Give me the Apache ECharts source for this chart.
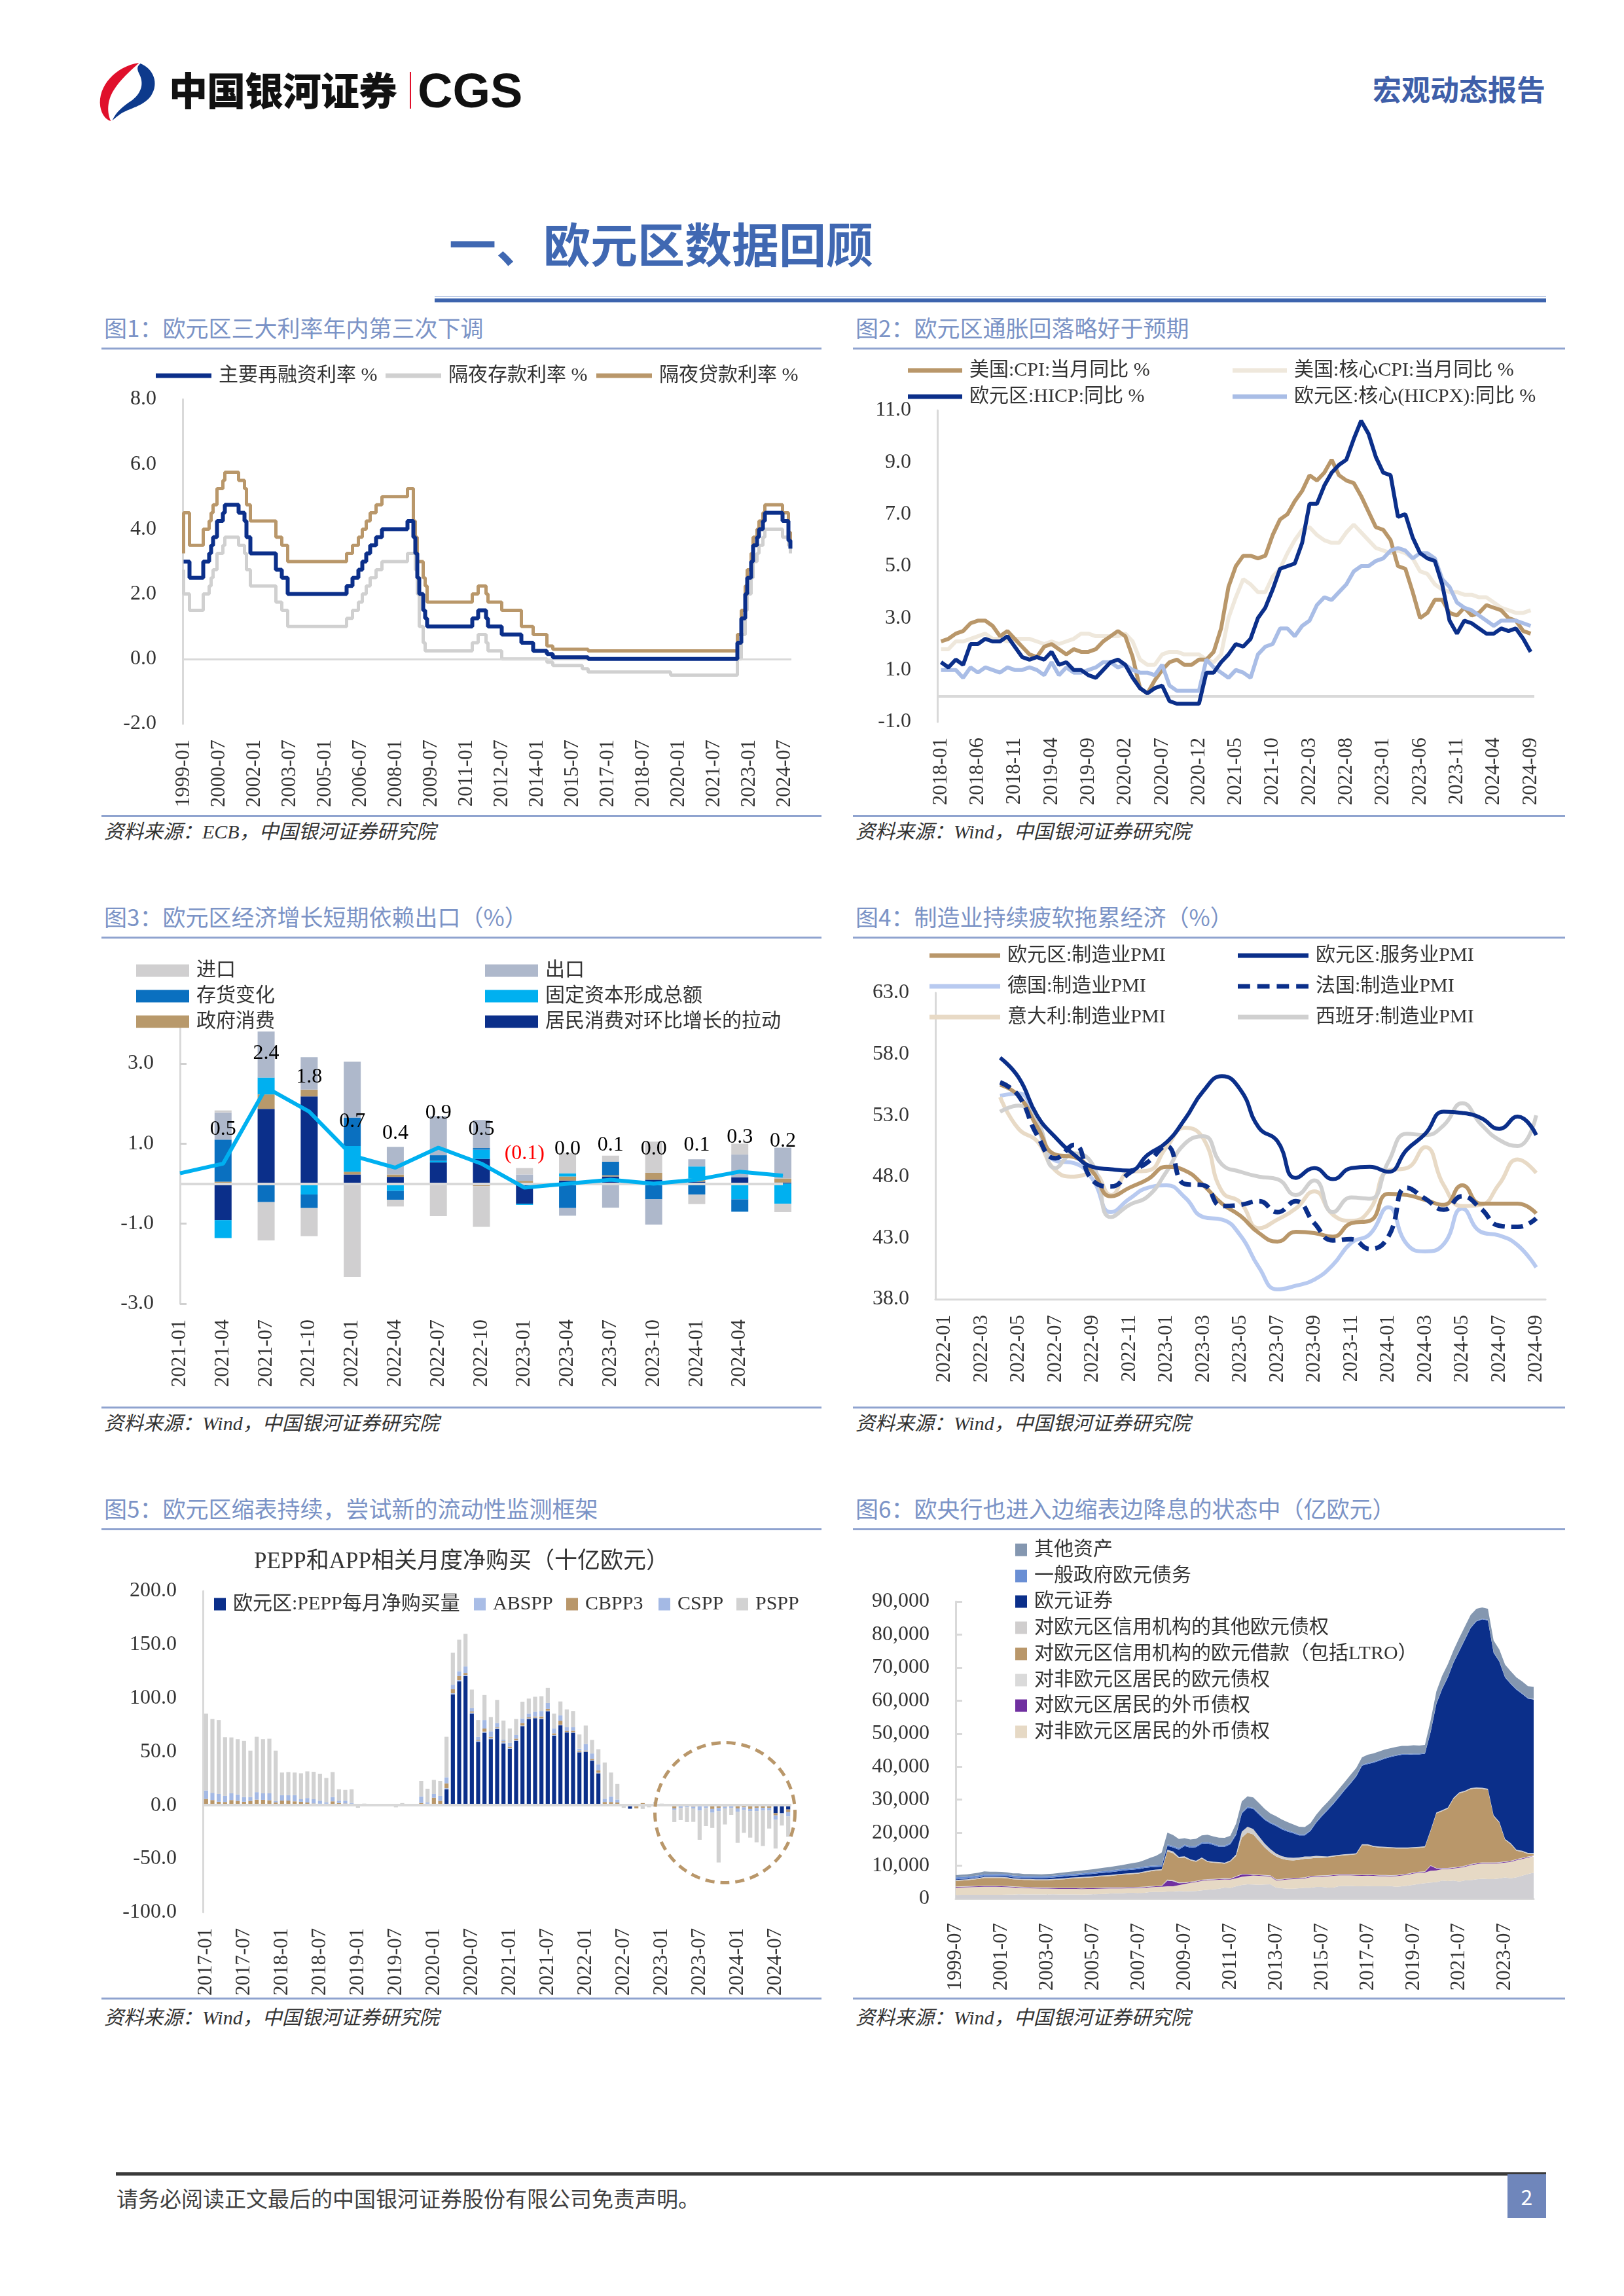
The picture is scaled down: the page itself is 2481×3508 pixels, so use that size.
<!DOCTYPE html>
<html><head><meta charset="utf-8">
<script src="https://cdn.jsdelivr.net/npm/echarts@6/dist/echarts.min.js"></script>
<style>
html,body{margin:0;padding:0;background:#fff}
#page{position:relative;width:2481px;height:3508px;overflow:hidden;background:#fff;font-family:'Noto Sans CJK SC',sans-serif}
.abs{position:absolute;white-space:nowrap}
.ctitle{position:absolute;font-size:35px;color:#7b93c6;line-height:40px;white-space:nowrap}
.rule{position:absolute;height:3px;background:#8fa3cf}
.src{position:absolute;font-size:30px;color:#333;font-style:italic;line-height:36px;white-space:nowrap;font-family:'Liberation Serif','Noto Sans CJK SC',serif}
.chart{position:absolute}
</style></head>
<body>
<div id="page">
  <svg class="abs" style="left:138px;top:93px" width="108" height="92" viewBox="0 0 100 90">
    <path d="M70,3 C35,8 8,38 12,68 C14,80 20,88 28,90 C22,78 22,60 32,44 C42,28 56,16 70,3 Z" fill="#e0102b"/>
    <path d="M72,4 C92,12 100,34 88,52 C78,66 60,70 48,76 C40,80 34,86 30,89 C36,76 46,68 58,60 C72,50 78,36 71,21 C67,13 66,9 72,4 Z" fill="#0d3a8c"/>
  </svg>
  <div class="abs" style="left:258px;top:106px;font-size:59px;line-height:59px;font-weight:900;color:#111;letter-spacing:-1px">中国银河证券</div>
  <div class="abs" style="left:626px;top:110px;width:2px;height:56px;background:#e0102b"></div>
  <div class="abs" style="left:638px;top:102px;font-size:74px;line-height:74px;font-weight:bold;color:#111;font-family:'Liberation Sans',Arial,sans-serif">CGS</div>
  <div class="abs" style="left:2097px;top:113px;font-size:44px;line-height:45px;font-weight:bold;color:#3f5fa9">宏观动态报告</div>

  <div class="abs" style="left:686px;top:334px;font-size:72px;line-height:72px;font-weight:bold;color:#4068b2">一、欧元区数据回顾</div>
  <div class="abs" style="left:664px;top:452px;width:1698px;height:2px;background:#bfcde8"></div>
  <div class="abs" style="left:664px;top:456px;width:1698px;height:6px;background:#3d64ae"></div>

  <div class="ctitle" style="left:159px;top:480px">图1：欧元区三大利率年内第三次下调</div>
  <div class="ctitle" style="left:1307px;top:480px">图2：欧元区通胀回落略好于预期</div>
  <div class="rule" style="left:155px;top:531px;width:1100px"></div>
  <div class="rule" style="left:1303px;top:531px;width:1088px"></div>
  <div class="rule" style="left:155px;top:1245px;width:1100px"></div>
  <div class="rule" style="left:1303px;top:1245px;width:1088px"></div>
  <div class="src" style="left:159px;top:1253px">资料来源：ECB，中国银河证券研究院</div>
  <div class="src" style="left:1307px;top:1253px">资料来源：Wind，中国银河证券研究院</div>

  <div class="ctitle" style="left:159px;top:1380px">图3：欧元区经济增长短期依赖出口（%）</div>
  <div class="ctitle" style="left:1307px;top:1380px">图4：制造业持续疲软拖累经济（%）</div>
  <div class="rule" style="left:155px;top:1431px;width:1100px"></div>
  <div class="rule" style="left:1303px;top:1431px;width:1088px"></div>
  <div class="rule" style="left:155px;top:2149px;width:1100px"></div>
  <div class="rule" style="left:1303px;top:2149px;width:1088px"></div>
  <div class="src" style="left:159px;top:2157px">资料来源：Wind，中国银河证券研究院</div>
  <div class="src" style="left:1307px;top:2157px">资料来源：Wind，中国银河证券研究院</div>

  <div class="ctitle" style="left:159px;top:2284px">图5：欧元区缩表持续，尝试新的流动性监测框架</div>
  <div class="ctitle" style="left:1307px;top:2284px">图6：欧央行也进入边缩表边降息的状态中（亿欧元）</div>
  <div class="rule" style="left:155px;top:2335px;width:1100px"></div>
  <div class="rule" style="left:1303px;top:2335px;width:1088px"></div>
  <div class="rule" style="left:155px;top:3052px;width:1100px"></div>
  <div class="rule" style="left:1303px;top:3052px;width:1088px"></div>
  <div class="src" style="left:159px;top:3065px">资料来源：Wind，中国银河证券研究院</div>
  <div class="src" style="left:1307px;top:3065px">资料来源：Wind，中国银河证券研究院</div>

  <div class="chart" id="c1" style="left:155px;top:535px;width:1100px;height:710px"></div>
  <div class="chart" id="c2" style="left:1303px;top:535px;width:1088px;height:710px"></div>
  <div class="chart" id="c3" style="left:155px;top:1434px;width:1100px;height:715px"></div>
  <div class="chart" id="c4" style="left:1303px;top:1434px;width:1088px;height:715px"></div>
  <div class="chart" id="c5" style="left:155px;top:2338px;width:1100px;height:714px"></div>
  <div class="chart" id="c6" style="left:1303px;top:2338px;width:1088px;height:714px"></div>

  <div class="abs" style="left:177px;top:3319px;width:2185px;height:5px;background:#3a3a3a"></div>
  <div class="abs" style="left:178px;top:3340px;font-size:33px;line-height:36px;color:#404040">请务必阅读正文最后的中国银河证券股份有限公司免责声明。</div>
  <div class="abs" style="left:2303px;top:3322px;width:59px;height:67px;background:#6f86bb;color:#fff;font-size:32px;line-height:67px;text-align:center">2</div>
</div>
<script>
// ---------------- DATA ----------------
function monthSeq(y0, m0, y1, m1, step) {
  const out = [];
  let y = y0, m = m0;
  while (y * 12 + m <= y1 * 12 + m1) {
    out.push(y + '-' + (m < 10 ? '0' + m : '' + m));
    m += step;
    while (m > 12) { m -= 12; y += 1; }
  }
  return out;
}
// Chart 1: ECB policy rates (change points, month → rate after change)
const cats1 = monthSeq(1999, 1, 2024, 10, 1);
const mroSteps = [['1999-01',3.00],['1999-04',2.50],['1999-11',3.00],['2000-02',3.25],['2000-03',3.50],['2000-04',3.75],['2000-06',4.25],['2000-09',4.50],['2000-10',4.75],['2001-05',4.50],['2001-08',4.25],['2001-09',3.75],['2001-11',3.25],['2002-12',2.75],['2003-03',2.50],['2003-06',2.00],['2005-12',2.25],['2006-03',2.50],['2006-06',2.75],['2006-08',3.00],['2006-10',3.25],['2006-12',3.50],['2007-03',3.75],['2007-06',4.00],['2008-07',4.25],['2008-10',3.75],['2008-11',3.25],['2008-12',2.50],['2009-01',2.00],['2009-03',1.50],['2009-04',1.25],['2009-05',1.00],['2011-04',1.25],['2011-07',1.50],['2011-11',1.25],['2011-12',1.00],['2012-07',0.75],['2013-05',0.50],['2013-11',0.25],['2014-06',0.15],['2014-09',0.05],['2016-03',0.00],['2022-07',0.50],['2022-09',1.25],['2022-11',2.00],['2022-12',2.50],['2023-02',3.00],['2023-03',3.50],['2023-05',3.75],['2023-06',4.00],['2023-08',4.25],['2023-09',4.50],['2024-06',4.25],['2024-09',3.65],['2024-10',3.40]];
const dfSteps = [['1999-01',2.75],['1999-01',2.00],['1999-04',1.50],['1999-11',2.00],['2000-02',2.25],['2000-03',2.50],['2000-04',2.75],['2000-06',3.25],['2000-09',3.50],['2000-10',3.75],['2001-05',3.50],['2001-08',3.25],['2001-09',2.75],['2001-11',2.25],['2002-12',1.75],['2003-03',1.50],['2003-06',1.00],['2005-12',1.25],['2006-03',1.50],['2006-06',1.75],['2006-08',2.00],['2006-10',2.25],['2006-12',2.50],['2007-03',2.75],['2007-06',3.00],['2008-07',3.25],['2008-11',2.75],['2008-12',2.00],['2009-01',1.00],['2009-03',0.50],['2009-04',0.25],['2011-04',0.50],['2011-07',0.75],['2011-11',0.50],['2011-12',0.25],['2012-07',0.00],['2014-06',-0.10],['2014-09',-0.20],['2015-12',-0.30],['2016-03',-0.40],['2019-09',-0.50],['2022-07',0.00],['2022-09',0.75],['2022-11',1.50],['2022-12',2.00],['2023-02',2.50],['2023-03',3.00],['2023-05',3.25],['2023-06',3.50],['2023-08',3.75],['2023-09',4.00],['2024-06',3.75],['2024-09',3.50],['2024-10',3.25]];
const mlfSteps = [['1999-01',3.25],['1999-01',4.50],['1999-04',3.50],['1999-11',4.00],['2000-02',4.25],['2000-03',4.50],['2000-04',4.75],['2000-06',5.25],['2000-09',5.50],['2000-10',5.75],['2001-05',5.50],['2001-08',5.25],['2001-09',4.75],['2001-11',4.25],['2002-12',3.75],['2003-03',3.50],['2003-06',3.00],['2005-12',3.25],['2006-03',3.50],['2006-06',3.75],['2006-08',4.00],['2006-10',4.25],['2006-12',4.50],['2007-03',4.75],['2007-06',5.00],['2008-07',5.25],['2008-10',4.25],['2008-11',3.75],['2008-12',3.00],['2009-03',2.50],['2009-04',2.25],['2009-05',1.75],['2011-04',2.00],['2011-07',2.25],['2011-11',2.00],['2011-12',1.75],['2012-07',1.50],['2013-05',1.00],['2013-11',0.75],['2014-06',0.40],['2014-09',0.30],['2016-03',0.25],['2022-07',0.75],['2022-09',1.50],['2022-11',2.25],['2022-12',2.75],['2023-02',3.25],['2023-03',3.75],['2023-05',4.00],['2023-06',4.25],['2023-08',4.50],['2023-09',4.75],['2024-06',4.50],['2024-09',3.90],['2024-10',3.65]];

// Chart 2: inflation (2018-01 .. 2024-09)
const cats2 = monthSeq(2018, 1, 2024, 9, 1);
const usCPI = [2.1,2.2,2.4,2.5,2.8,2.9,2.9,2.7,2.3,2.5,2.2,1.9, 1.6,1.5,1.9,2.0,1.8,1.6,1.8,1.7,1.7,1.8,2.1,2.3, 2.5,2.3,1.5,0.3,0.1,0.6,1.0,1.3,1.4,1.2,1.2,1.4, 1.4,1.7,2.6,4.2,5.0,5.4,5.4,5.3,5.4,6.2,6.8,7.0, 7.5,7.9,8.5,8.3,8.6,9.1,8.5,8.3,8.2,7.7,7.1,6.5, 6.4,6.0,5.0,4.9,4.0,3.0,3.2,3.7,3.7,3.2,3.1,3.4, 3.1,3.2,3.5,3.4,3.3,3.0,2.9,2.5,2.4];
const usCore = [1.8,1.8,2.1,2.1,2.2,2.3,2.4,2.2,2.2,2.1,2.2,2.2, 2.2,2.1,2.0,2.1,2.0,2.1,2.2,2.4,2.4,2.3,2.3,2.3, 2.3,2.4,2.1,1.4,1.2,1.2,1.6,1.7,1.7,1.6,1.6,1.6, 1.4,1.3,1.6,3.0,3.8,4.5,4.3,4.0,4.0,4.6,4.9,5.5, 6.0,6.4,6.5,6.2,6.0,5.9,5.9,6.3,6.6,6.3,6.0,5.7, 5.6,5.5,5.6,5.5,5.3,4.8,4.7,4.3,4.1,4.0,4.0,3.9, 3.9,3.8,3.8,3.6,3.4,3.3,3.2,3.2,3.3];
const euHICP = [1.3,1.1,1.4,1.2,2.0,2.0,2.2,2.1,2.1,2.3,1.9,1.5, 1.4,1.5,1.4,1.7,1.2,1.3,1.0,1.0,0.8,0.7,1.0,1.3, 1.4,1.2,0.7,0.3,0.1,0.3,0.4,-0.2,-0.3,-0.3,-0.3,-0.3, 0.9,0.9,1.3,1.6,2.0,1.9,2.2,3.0,3.4,4.1,4.9,5.0, 5.1,5.9,7.4,7.4,8.1,8.6,8.9,9.1,9.9,10.6,10.1,9.2, 8.6,8.5,6.9,7.0,6.1,5.5,5.3,5.2,4.3,2.9,2.4,2.9, 2.8,2.6,2.4,2.4,2.6,2.5,2.6,2.2,1.7];
const euCore = [1.0,1.0,1.0,0.7,1.1,0.9,1.1,1.0,0.9,1.1,1.0,1.0, 1.1,1.0,0.8,1.3,0.8,1.1,0.9,0.9,1.0,1.1,1.3,1.3, 1.1,1.2,1.0,0.9,0.9,0.8,1.2,0.4,0.2,0.2,0.2,0.2, 1.4,1.1,0.9,0.7,1.0,0.9,0.7,1.6,1.9,2.0,2.6,2.6, 2.3,2.7,2.9,3.5,3.8,3.7,4.0,4.3,4.8,5.0,5.0,5.2, 5.3,5.6,5.7,5.6,5.3,5.5,5.5,5.3,4.5,4.2,3.6,3.4, 3.3,3.1,2.9,2.7,2.9,2.9,2.9,2.8,2.7];

// Chart 3: GDP QoQ contributions (first slot carries only the line start)
const cats3 = monthSeq(2021, 1, 2024, 7, 3);
const hhCons   = [null,-0.91,1.87,2.18,0.23,0.17,0.53,0.62,-0.50,0.08,0.18,0.10,0.05,0.16,0.03];
const govCons  = [null,0.05,0.36,0.17,0.07,0.06,0.00,-0.06,0.07,0.10,0.03,0.17,0.08,0.00,0.10];
const gfcf     = [null,-0.45,0.42,-0.27,0.64,-0.18,0.04,0.23,-0.03,0.08,0.00,0.00,0.30,-0.39,-0.50];
const invChg   = [null,1.05,-0.46,-0.34,0.71,-0.22,0.14,0.04,0.00,-0.61,0.34,-0.39,-0.27,-0.31,0.00];
const exportsC = [null,0.68,1.15,0.81,1.40,0.69,0.98,0.70,0.16,-0.19,-0.60,-0.63,0.18,0.57,0.77];
const importsC = [null,0.05,-0.96,-0.70,-2.33,-0.17,-0.81,-1.02,0.16,0.51,0.15,0.78,-0.24,0.27,-0.21];
const gdpQoQ   = [0.26,0.5,2.4,1.8,0.7,0.4,0.9,0.5,-0.1,0.0,0.1,0.0,0.1,0.3,0.2];

// Chart 4: PMIs (2022-01 .. 2024-09)
const cats4 = monthSeq(2022, 1, 2024, 9, 1);
const ezMfg = [null,null,null,55.5,54.6,52.1,49.8,49.6,48.4,46.4,47.1,47.8,48.8,48.5,47.3,45.8,44.8,43.4,42.7,43.5,43.4,43.1,44.2,44.4,46.6,46.5,46.1,45.7,47.3,45.8,45.8,45.8,45.0];
const ezSvc = [null,null,null,57.7,56.1,53.0,51.2,49.8,48.8,48.6,48.5,49.8,50.8,52.7,55.0,56.2,55.1,52.0,50.9,47.9,48.7,47.8,48.7,48.8,48.4,50.2,51.5,53.3,53.2,52.8,51.9,52.9,51.4];
const deMfg = [null,null,null,54.6,54.8,52.0,49.3,49.1,47.8,45.1,46.2,47.1,47.3,46.3,44.7,44.5,43.2,40.6,38.8,39.1,39.6,40.8,42.6,43.3,45.5,42.5,41.9,42.5,45.4,43.5,43.2,42.4,40.6];
const frMfg = [null,null,null,55.7,54.6,51.4,49.5,50.6,47.7,47.2,48.3,49.2,50.5,47.4,47.3,45.6,45.7,46.0,45.1,46.0,44.2,42.8,42.9,42.1,43.1,47.1,46.2,45.3,46.4,45.4,44.0,43.9,44.6];
const itMfg = [null,null,null,54.5,51.9,50.9,48.5,48.0,48.3,46.5,48.4,48.5,50.4,52.0,51.1,46.8,45.9,43.8,44.5,45.4,46.8,44.9,44.4,45.3,48.5,48.7,50.4,47.3,45.6,45.7,47.4,49.4,48.3];
const esMfg = [null,null,null,53.3,53.8,52.6,48.7,49.9,49.0,44.7,45.7,46.4,48.4,50.7,51.3,49.0,48.4,48.0,47.8,46.5,47.7,45.1,46.3,46.2,49.2,51.5,51.4,52.2,54.0,52.3,51.0,50.5,53.0];

// Chart 5: monthly net purchases, bn EUR (2017-01 .. 2024-09)
const cats5 = monthSeq(2017, 1, 2024, 9, 1);
const pepp = [0,0,0,0,0,0,0,0,0,0,0,0, 0,0,0,0,0,0,0,0,0,0,0,0, 0,0,0,0,0,0,0,0,0,0,0,0, 0,0,14.9,103.6,115.8,120.7,85.5,59.2,67.7,61.7,71.0,57.7, 52.8,60.1,73.9,80.6,81.3,80.6,87.8,65.0,74.6,67.9,67.7,49.4, 49.9,41.6,29.8,0,0,0,0,-3.3,-1.0,0,0,0, 0,0,0,0,0,0,0,0,0,0,0,1.0, 0,0,0,0,0,0,-7.5,-7.5,-4.0];
const abspp = [1,1,1,1,1,1,1,1,1,1,1,1, 0.5,0.5,0.5,0.5,0.5,0.5,0.5,0.5,0.5,0.5,0.5,0.5, 0,0,0,0,0,0,0,0,0,0,0.5,0.5, 1,1,1,1,1,1,1,1,1,1,1,1, 0.5,0.5,0.5,0.5,0.5,0.5,0.5,0.5,0.5,0.5,0.5,0.5, 0.5,0.5,0.5,0.3,0.3,0.3,0,0,0,0,0,0, 0,0,0,0,0,0,0,0,0,0,0,0, 0,0,0,0,0,0,0,0,0];
const cbpp3 = [4.9,3.8,2.2,2.0,3.8,3.1,2.2,3.1,4.2,4.0,3.6,1.6, 3.8,3.8,3.1,2.7,2.0,1.1,0.9,0.9,3.1,1.6,1.1,0.9, 0,0.3,0,0,0.3,0,0,0.5,0,0,1.6,0.9, 6.0,3.1,4.5,3.7,3.8,1.8,1.1,0.9,2.9,1.1,0.7,1.1, 1.5,1.6,2.3,1.1,1.1,1.8,1.7,1.6,3.8,1.1,1.3,1.2, 0.7,1.2,2.3,2.7,2.7,2.2,0,0,-2.0,2.0,0,0, 0,0,-3.0,-1.0,-1.0,-1.5,-1.0,-0.5,-3.5,-2.5,-1.5,-1.0, -3.0,-2.0,-3.5,-2.5,-2.5,-2.5,-2.0,0,-2.5];
const cspp = [7.9,6.8,7.3,5.7,6.3,5.9,4.4,3.5,7.0,6.1,6.5,1.2, 5.1,5.1,5.8,2.4,4.2,4.0,2.8,1.3,4.0,2.1,2.6,0.8, 0,0,0,0,0,0,0,0,0,0,6.1,1.3, 3.5,4.6,5.7,4.2,4.6,6.1,3.0,2.8,7.9,5.2,4.1,1.4, 3.6,3.3,4.4,3.3,4.4,5.1,5.5,4.6,5.1,3.3,3.3,1.7, 6.1,5.0,5.7,3.0,5.2,2.8,0,0,0,0,1.0,1.0, 0.5,0,-1.5,-1.5,-1.0,-1.5,-4.0,-2.0,-3.5,-3.0,-1.5,-1.5, -3.0,-2.5,-2.0,-3.0,-2.5,-2.5,-4.0,-0.5,-4.0];
const pspp = [71.7,69.0,69.0,54.8,52.2,51.7,52.5,43.4,51.7,50.6,51.0,47.2, 21.1,21.6,21.1,24.2,24.9,25.6,25.2,22.7,23.4,10.7,10.1,12.7, -2.4,1.2,0.5,-1.0,0.7,1.0,-2.0,1.5,1.0,0.5,14.5,12.7, 13.1,14.0,37.8,30.0,29.4,30.5,17.4,15.6,23.4,13.4,21.6,17.9, 13.3,15.1,15.6,14.1,14.0,13.8,14.1,13.8,12.9,16.7,15.2,13.3, 17.2,12.7,14.0,33.9,22.3,14.5,-2.5,0,0,-3.5,-2.0,2.2, 1.0,-0.5,-11.3,-11.5,-13.8,-12.6,-27.3,-17.0,-14.2,-48.0,-15.0,-6.6, -29.2,-21.3,-24.8,-29.2,-33.1,-16.8,-27.0,-11.0,-19.0];

// Chart 6: Eurosystem assets, 100m EUR, quarterly (1999-07 .. 2024-10)
const cats6 = monthSeq(1999, 7, 2024, 10, 3);
const gold = [1160,1170,1170,1180,1190,1180,1180,1200,1210,1260, 1260,1330,1300,1300,1300,1280,1300,1330,1300,1300, 1280,1310,1250,1310,1320,1400,1460,1600,1660,1640, 1760,1780,1730,1770,2010,2090,2010,2160,2180,2320, 2240,2300,2320,2520,2710,2820,3000,3370,3290,3780, 4160,4370,4330,4220,4330,4380,3360,3160,3030,3030, 3160,3340,3340,3580,3580,3370,3380,3800,3830,3850, 3760,3790,3820,3760,3760,3790,3800,3620,3760,3950, 4230,4530,4700,4900,5000,5510,5360,5490,5190,5560, 5590,5890,6040,5930,5930,6170,6450,6200,6490,6990, 7500,7860];
const fxNonEuro = [2190,2230,2280,2320,2360,2420,2420,2400,2340,2240, 2140,1970,1900,1850,1800,1770,1750,1670,1650,1650, 1670,1640,1650,1640,1630,1600,1590,1500,1440,1460, 1390,1370,1470,1530,1440,1460,1590,1600,1600,1800, 2200,2500,2750,2900,2900,2830,2750,2500,2510,2400, 2490,2480,2720,2730,2520,2370,2190,2490,2820,2920, 2840,2810,3210,3070,3170,3430,3570,3300,3270,3250, 3240,3160,3170,3190,3090,3060,3000,3230,3290,3300, 3420,3320,3250,3550,3550,3440,3590,3660,4160,4090, 4560,4560,4610,4720,4720,4580,4500,4950,5160,5060, 4950,4890];
const fxEuroArea = [200,200,200,200,200,200,200,200,200,200, 200,200,200,200,200,200,200,200,200,200, 200,200,200,200,200,200,200,200,200,200, 200,200,200,200,200,200,200,1740,1520,600, 300,200,200,200,200,200,200,200,200,500, 700,500,200,200,200,200,200,200,200,200, 200,200,200,200,200,200,200,200,200,200, 200,200,200,200,200,200,200,200,200,200, 200,200,200,1500,600,200,200,200,200,200, 200,200,200,200,200,200,200,200,200,200, 200,200];
const euroNonEuro = [150,150,150,150,150,150,150,150,150,150, 150,150,150,150,150,150,150,150,150,150, 150,150,150,150,150,150,150,150,150,150, 150,150,150,150,150,150,150,300,300,250, 200,150,150,150,150,150,150,150,150,150, 150,150,150,150,150,150,150,150,150,150, 150,150,150,150,150,150,150,150,150,150, 150,150,150,150,150,150,150,150,150,150, 150,150,150,150,150,150,150,150,150,150, 150,150,150,150,150,150,150,150,150,150, 150,150];
const lendingCI = [1700,1750,1800,1950,2100,2350,2350,2350,2400,2350, 2150,2150,2150,2200,2150,2200,2200,2350,2500,2600, 2800,2900,3050,3100,3200,3350,3400,3450,3650,3800, 3900,4000,4100,4350,4500,4600,4700,8500,8200,7300, 7500,6500,5800,6400,5200,4900,4700,4400,5150,6100, 11000,12500,12100,10200,8300,6900,6900,6100,5500,5300, 5450,5600,5300,5400,5300,5350,5500,5550,5750,5850, 6150,8900,8860,8400,8300,8200,8150,8000,7800,7600, 7300,7200,7300,10400,16500,17200,18000,20800,22200,22400, 22700,22600,22300,22000,14000,11900,6500,5000,2500,1800, 800,400];
const otherClaimsCI = [300,300,300,300,300,300,300,300,300,300, 300,300,300,300,300,300,300,300,300,300, 300,300,300,300,300,300,300,300,300,300, 300,300,300,300,300,300,300,500,500,400, 400,300,300,300,300,300,300,300,300,500, 1800,1800,1600,1400,1200,1000,900,800,800,800, 700,700,600,600,500,300,300,300,300,300, 300,300,300,300,300,300,300,300,300,300, 300,300,300,300,300,300,300,300,300,300, 300,300,300,300,300,300,300,300,300,300, 300,300];
const securities = [200,200,200,200,200,200,200,250,300,300, 300,300,300,300,350,350,400,450,500,550, 550,550,600,700,750,750,800,850,850,900, 950,1000,1000,1000,900,800,750,1200,1200,2200, 3100,3500,4100,4200,5300,5100,4600,4800,4900,5900, 5500,5700,6100,6600,7200,7800,8300,8100,7800,7400, 6700,6400,7700,10000,12100,14000,15600,17500,19400,21300, 23200,23800,24300,25200,26000,26700,27300,27800,28100,28100, 28100,28000,28000,29700,32900,36700,39400,40900,42800,45800, 48500,50300,51000,51000,49200,48500,48900,48200,48500,47500, 46700,46500];
const govDebt = [600,600,600,600,600,600,600,600,600,600, 550,550,550,550,550,550,550,550,550,550, 500,500,500,500,500,500,500,500,500,500, 450,450,450,450,450,450,450,450,450,450, 400,400,400,400,400,400,400,400,400,400, 350,350,350,350,350,350,350,350,350,350, 300,300,300,300,300,300,300,300,300,300, 280,280,280,280,280,280,280,280,280,280, 250,250,250,250,250,250,250,250,250,250, 220,220,220,220,220,220,220,220,220,220, 220,220];
const otherAssets = [650,700,700,750,800,900,800,750,650,600, 650,750,650,650,650,600,650,600,650,700, 750,800,800,800,850,900,1000,1050,1150,1200, 1400,1550,1700,1950,2450,2950,3850,3550,3350,2750, 2000,2100,2100,2100,2200,2200,2400,2300,2200,3000, 3350,3150,3150,3150,2950,2650,2650,2650,2550,2350, 2300,2200,2100,2100,2200,2200,2200,2200,2200,2300, 2320,2220,2520,2520,2520,2520,2420,2420,2420,2420, 2550,2450,2450,3250,3550,3750,3750,3550,3750,3750, 3780,3580,3380,3280,3480,3480,3680,3680,3480,3580, 3580,3680];

// ---------------- STYLE HELPERS ----------------
const SERIF = "'Liberation Serif','Noto Sans CJK SC',serif";
const NAVY = '#0b2f8a', TAN = '#b9976a';
const TXT = {fontSize: 30, color: '#333', fontFamily: SERIF, padding: [0, 0, 0, 6]};
const DASH_ICON = 'path://M0,0H19V7H0Z M30,0H49V7H30Z M60,0H79V7H60Z M90,0H109V7H90Z';
function lineLeg(name, left, top, w, icon) {
  return {data: [name], left: left, top: top, icon: icon || 'rect', itemWidth: w, itemHeight: 7, itemGap: 0, padding: 0,
          selectedMode: false, symbolKeepAspect: false, textStyle: TXT};
}
function boxLeg(name, left, top, w, h) {
  return {data: [name], left: left, top: top, icon: 'rect', itemWidth: w, itemHeight: h, itemGap: 0,
          padding: 0, selectedMode: false, textStyle: TXT};
}
function xLab(interval, margin) {
  return {rotate: 90, interval: interval, fontSize: 31, color: '#333', margin: margin || 24, fontFamily: SERIF};
}
function yAx(min, max, interval, fmt, extra) {
  return Object.assign({type: 'value', min: min, max: max, interval: interval,
    axisLine: {show: true, lineStyle: {color: '#d9d9d9', width: 3}},
    axisTick: {show: false}, splitLine: {show: false},
    axisLabel: {fontSize: 32, color: '#333', margin: 40, formatter: fmt, fontFamily: SERIF}}, extra || {});
}
function zeroLine(w) {
  return {silent: true, symbol: ['none', 'none'], label: {show: false}, animation: false,
          lineStyle: {color: '#d9d9d9', width: w || 4, type: 'solid'}, emphasis: {disabled: true}, data: [{yAxis: 0}]};
}
const f1 = v => v.toFixed(1);
function mk(id, opt) {
  const c = echarts.init(document.getElementById(id), null, {renderer: 'canvas'});
  opt.animation = false;
  opt.textStyle = {fontFamily: SERIF};
  c.setOption(opt);
  return c;
}

// ---------------- CHART 1 ----------------
mk('c1', {
  grid: {left: 124, top: 75, width: 930, height: 496},
  legend: [lineLeg('主要再融资利率 %', 83, 24, 85), lineLeg('隔夜存款利率 %', 434, 24, 85), lineLeg('隔夜贷款利率 %', 756, 24, 85)],
  xAxis: {type: 'category', data: cats1, boundaryGap: true, axisLine: {show: false}, axisTick: {show: false}, axisLabel: xLab(17)},
  yAxis: yAx(-2, 8, 2, f1),
  series: [
    {name: '主要再融资利率 %', type: 'line', step: 'end', data: mroSteps, symbol: 'none', z: 5, lineStyle: {width: 6, color: NAVY}, itemStyle: {color: NAVY}},
    {name: '隔夜存款利率 %', type: 'line', step: 'end', data: dfSteps, symbol: 'none', z: 3, lineStyle: {width: 5, color: '#d0d0d0'}, itemStyle: {color: '#d0d0d0'}, markLine: zeroLine(3)},
    {name: '隔夜贷款利率 %', type: 'line', step: 'end', data: mlfSteps, symbol: 'none', z: 4, lineStyle: {width: 5, color: TAN}, itemStyle: {color: TAN}}
  ]
});

// ---------------- CHART 2 ----------------
mk('c2', {
  grid: {left: 129, top: 92, width: 912, height: 476},
  legend: [lineLeg('美国:CPI:当月同比 %', 84, 16, 83), lineLeg('美国:核心CPI:当月同比 %', 580, 16, 83),
           lineLeg('欧元区:HICP:同比 %', 84, 56, 83), lineLeg('欧元区:核心(HICPX):同比 %', 580, 56, 83)],
  xAxis: {type: 'category', data: cats2, boundaryGap: true, axisLine: {show: false}, axisTick: {show: false}, axisLabel: xLab(4)},
  yAxis: yAx(-1, 11, 2, f1),
  series: [
    {name: '美国:核心CPI:当月同比 %', type: 'line', data: usCore, symbol: 'none', z: 2, lineStyle: {width: 6, color: '#efe8dc'}, itemStyle: {color: '#efe8dc'}, markLine: zeroLine(4)},
    {name: '美国:CPI:当月同比 %', type: 'line', data: usCPI, symbol: 'none', z: 3, lineStyle: {width: 6, color: TAN}, itemStyle: {color: TAN}},
    {name: '欧元区:核心(HICPX):同比 %', type: 'line', data: euCore, symbol: 'none', z: 4, lineStyle: {width: 6, color: '#a9bde6'}, itemStyle: {color: '#a9bde6'}},
    {name: '欧元区:HICP:同比 %', type: 'line', data: euHICP, symbol: 'none', z: 5, lineStyle: {width: 6, color: NAVY}, itemStyle: {color: NAVY}}
  ]
});

// ---------------- CHART 3 ----------------
const c3cols = {'居民消费对环比增长的拉动': NAVY, '政府消费': '#b8996b', '固定资本形成总额': '#00b0f0', '存货变化': '#0a70c0', '出口': '#aeb8cb', '进口': '#d0cfd0'};
const c3data = [['居民消费对环比增长的拉动', hhCons], ['政府消费', govCons], ['固定资本形成总额', gfcf], ['存货变化', invChg], ['出口', exportsC], ['进口', importsC]];
const c3series = c3data.map(d => ({name: d[0], type: 'bar', stack: 'gdp', data: d[1], barWidth: 26, clip: false, itemStyle: {color: c3cols[d[0]]}}));
c3series.push({name: 'GDP环比', type: 'line', data: gdpQoQ.map((v, i) => i === 0 ? {value: v, label: {show: false}} : (v < 0 ? {value: v, label: {color: '#ff0000'}} : v)),
  symbol: 'circle', symbolSize: 1, showSymbol: true, z: 6, lineStyle: {width: 6, color: '#00b0f0'}, itemStyle: {color: '#00b0f0'},
  label: {show: true, position: 'top', distance: 36, fontSize: 32, color: '#000', fontFamily: SERIF,
          formatter: p => p.value < 0 ? '(' + Math.abs(p.value).toFixed(1) + ')' : p.value.toFixed(1)},
  markLine: zeroLine(4)});
mk('c3', {
  grid: {left: 120, top: 136, width: 921, height: 422},
  legend: [boxLeg('进口', 53, 34, 81, 19), boxLeg('出口', 586, 34, 81, 19),
           boxLeg('存货变化', 53, 73, 81, 19), boxLeg('固定资本形成总额', 586, 73, 81, 19),
           boxLeg('政府消费', 53, 112, 81, 19), boxLeg('居民消费对环比增长的拉动', 586, 112, 81, 19)],
  xAxis: {type: 'category', data: cats3, boundaryGap: false, axisLine: {show: false}, axisTick: {show: false}, axisLabel: xLab(i => i < 14)},
  yAxis: yAx(-3, 3.9, 2, f1, {axisTick: {show: true, inside: true, length: 10, lineStyle: {color: '#d0d0d0', width: 3}}, axisLabel: {fontSize: 32, color: '#333', margin: 40, formatter: f1, fontFamily: SERIF, showMaxLabel: false}}),
  series: c3series
});

// ---------------- CHART 4 ----------------
mk('c4', {
  grid: {left: 126, top: 83, width: 932, height: 468},
  legend: [lineLeg('欧元区:制造业PMI', 117, 11, 108), lineLeg('欧元区:服务业PMI', 588, 11, 108),
           lineLeg('德国:制造业PMI', 117, 58, 108), lineLeg('法国:制造业PMI', 588, 58, 108, DASH_ICON),
           lineLeg('意大利:制造业PMI', 117, 105, 108), lineLeg('西班牙:制造业PMI', 588, 105, 108)],
  xAxis: {type: 'category', data: cats4, boundaryGap: true, axisLine: {show: true, lineStyle: {color: '#d9d9d9', width: 3}}, axisTick: {show: false}, axisLabel: xLab(1)},
  yAxis: yAx(38, 63, 5, f1),
  series: [
    {name: '欧元区:制造业PMI', type: 'line', smooth: 0.5, data: ezMfg, symbol: 'none', z: 3, lineStyle: {width: 6, color: TAN}, itemStyle: {color: TAN}},
    {name: '欧元区:服务业PMI', type: 'line', smooth: 0.5, data: ezSvc, symbol: 'none', z: 5, lineStyle: {width: 6, color: NAVY}, itemStyle: {color: NAVY}},
    {name: '德国:制造业PMI', type: 'line', smooth: 0.5, data: deMfg, symbol: 'none', z: 2, lineStyle: {width: 6, color: '#b8caf0'}, itemStyle: {color: '#b8caf0'}},
    {name: '法国:制造业PMI', type: 'line', smooth: 0.5, data: frMfg, symbol: 'none', z: 4, lineStyle: {width: 7, color: NAVY, type: [18, 10]}, itemStyle: {color: NAVY}},
    {name: '意大利:制造业PMI', type: 'line', smooth: 0.5, data: itMfg, symbol: 'none', z: 2, lineStyle: {width: 6, color: '#e8dac6'}, itemStyle: {color: '#e8dac6'}},
    {name: '西班牙:制造业PMI', type: 'line', smooth: 0.5, data: esMfg, symbol: 'none', z: 2, lineStyle: {width: 6, color: '#d0d0d0'}, itemStyle: {color: '#d0d0d0'}}
  ]
});

// ---------------- CHART 5 ----------------
const c5 = mk('c5', {
  title: {text: 'PEPP和APP相关月度净购买（十亿欧元）', left: 'center', top: 26, textStyle: {fontSize: 35, fontWeight: 'normal', color: '#333', fontFamily: SERIF}},
  grid: {left: 155, top: 93, width: 899, height: 491},
  legend: [boxLeg('欧元区:PEPP每月净购买量', 172, 98, 18, 19), boxLeg('ABSPP', 569, 98, 18, 19), boxLeg('CBPP3', 710, 98, 18, 19),
           boxLeg('CSPP', 851, 98, 18, 19), boxLeg('PSPP', 970, 98, 18, 19)],
  xAxis: {type: 'category', data: cats5, boundaryGap: true, axisLine: {show: false}, axisTick: {show: false}, axisLabel: xLab(5)},
  yAxis: yAx(-100, 200, 50, f1),
  series: [
    {name: '欧元区:PEPP每月净购买量', type: 'bar', stack: 'app', data: pepp, barCategoryGap: '36%', itemStyle: {color: NAVY}},
    {name: 'ABSPP', type: 'bar', stack: 'app', data: abspp, itemStyle: {color: '#a9bde6'}},
    {name: 'CBPP3', type: 'bar', stack: 'app', data: cbpp3, itemStyle: {color: TAN}},
    {name: 'CSPP', type: 'bar', stack: 'app', data: cspp, itemStyle: {color: '#a4b9e4'}},
    {name: 'PSPP', type: 'bar', stack: 'app', data: pspp, itemStyle: {color: '#d2d2d2'}, markLine: zeroLine(4)}
  ]
});
const ctr = c5.convertToPixel({xAxisIndex: 0, yAxisIndex: 0}, ['2023-11', -7]);
c5.setOption({graphic: [{type: 'circle', z: 100, silent: true, shape: {cx: ctr[0], cy: ctr[1], r: 107},
  style: {fill: 'none', stroke: TAN, lineWidth: 5, lineDash: [14, 9]}}]});

// ---------------- CHART 6 ----------------
const c6defs = [
  ['黄金及黄金应收款', gold, '#d0cfd3'],
  ['对非欧元区居民的外币债权', fxNonEuro, '#e6d9c5'],
  ['对欧元区居民的外币债权', fxEuroArea, '#7030a0'],
  ['对非欧元区居民的欧元债权', euroNonEuro, '#dadada'],
  ['对欧元区信用机构的欧元借款（包括LTRO）', lendingCI, TAN],
  ['对欧元区信用机构的其他欧元债权', otherClaimsCI, '#d0cece'],
  ['欧元证券', securities, NAVY],
  ['一般政府欧元债务', govDebt, '#6a8fd4'],
  ['其他资产', otherAssets, '#8497b0']
];
const c6legOrder = ['其他资产', '一般政府欧元债务', '欧元证券', '对欧元区信用机构的其他欧元债权', '对欧元区信用机构的欧元借款（包括LTRO）', '对非欧元区居民的欧元债权', '对欧元区居民的外币债权', '对非欧元区居民的外币债权'];
mk('c6', {
  grid: {left: 157, top: 109, width: 883, height: 454},
  legend: c6legOrder.map((n, i) => boxLeg(n, 248, 15 + Math.round(i * 39.7), 18, 19)),
  xAxis: {type: 'category', data: cats6, boundaryGap: false,
          axisLine: {show: true, lineStyle: {color: '#d9d9d9', width: 3}},
          axisTick: {show: true, inside: true, interval: 7, length: 10, lineStyle: {color: '#d9d9d9', width: 2}},
          axisLabel: xLab(7, 37)},
  yAxis: yAx(0, 90000, 10000, v => v.toLocaleString('en-US'), {axisTick: {show: true, inside: true, length: 10, lineStyle: {color: '#d9d9d9', width: 3}}}),
  series: c6defs.map(d => ({name: d[0], type: 'line', stack: 'bs', data: d[1], symbol: 'none', smooth: false,
    lineStyle: {width: 0}, areaStyle: {color: d[2], opacity: 1}, itemStyle: {color: d[2]}}))
});
</script>
</body></html>
